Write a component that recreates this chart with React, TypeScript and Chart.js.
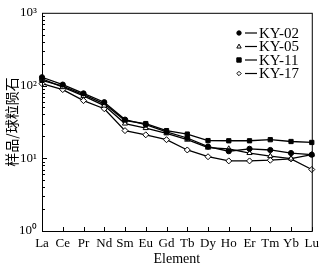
import React, { useEffect, useRef } from 'react';
import { Chart, registerables } from 'chart.js';

Chart.register(...registerables);

const elements = ['La', 'Ce', 'Pr', 'Nd', 'Sm', 'Eu', 'Gd', 'Tb', 'Dy', 'Ho', 'Er', 'Tm', 'Yb', 'Lu'];
const ky02 = [130, 103, 78, 59, 34, 29, 23, 19, 14.5, 12.5, 13.5, 13, 11.8, 11.2];
const ky05 = [124, 95, 72, 53, 30, 26, 22, 18, 14, 13.5, 11.8, 10.7, 9.9, 11.2];
const ky11 = [118, 98, 75, 56, 33, 30, 24, 21.5, 17.5, 17.4, 17.4, 18, 17, 16.5];
const ky17 = [106, 88, 62, 48, 24, 21, 18, 13, 10.5, 9.2, 9.2, 9.4, 9.8, 7];
const seriesNames = ['KY-02', 'KY-05', 'KY-11', 'KY-17'];
const yMajorTicks = [1, 10, 100, 1000];
const yMajorLabels = ['10⁰', '10¹', '10²', '10³'];
const xTitle = 'Element';
const yTitle = '样品/球粒陨石';

const SERIF = '"Liberation Serif", "Times New Roman", serif';
const styles = [
  { shape: 'circle', fill: '#000' },
  { shape: 'triangle', fill: '#fff' },
  { shape: 'rect', fill: '#000' },
  { shape: 'rectRot', fill: '#fff' },
];

function drawMarker(ctx: CanvasRenderingContext2D, shape: string, x: number, y: number, r: number, fill: string) {
  ctx.beginPath();
  if (shape === 'circle') {
    ctx.arc(x, y, r, 0, Math.PI * 2);
  } else if (shape === 'triangle') {
    ctx.moveTo(x, y - r * 1.1);
    ctx.lineTo(x + r, y + r * 0.7);
    ctx.lineTo(x - r, y + r * 0.7);
    ctx.closePath();
  } else if (shape === 'rect') {
    ctx.rect(x - r, y - r, r * 2, r * 2);
  } else {
    ctx.moveTo(x, y - r);
    ctx.lineTo(x + r, y);
    ctx.lineTo(x, y + r);
    ctx.lineTo(x - r, y);
    ctx.closePath();
  }
  ctx.fillStyle = fill;
  ctx.fill();
  ctx.lineWidth = 1;
  ctx.strokeStyle = '#000';
  ctx.stroke();
}

const framePlugin = {
  id: 'frameAndLegend',
  afterDraw(chart: any) {
    const { ctx, chartArea: a, scales } = chart;
    ctx.save();
    ctx.strokeStyle = '#000';
    ctx.lineWidth = 1;
    ctx.strokeRect(a.left + 0.5, a.top + 0.5, a.right - a.left, a.bottom - a.top);
    const line = (x1: number, y1: number, x2: number, y2: number) => {
      ctx.beginPath();
      ctx.moveTo(x1, y1);
      ctx.lineTo(x2, y2);
      ctx.stroke();
    };
    const ys = scales.y;
    for (let d = 0; d < 3; d++) {
      for (let m = 1; m <= 9; m++) {
        const v = m * Math.pow(10, d);
        const py = Math.round(ys.getPixelForValue(v)) + 0.5;
        line(a.left, py, a.left + (m === 1 ? 5 : 3), py);
      }
    }
    const xs = scales.x;
    elements.forEach((_, i) => {
      const px = Math.round(xs.getPixelForValue(i)) + 0.5;
      line(px, a.bottom, px, a.bottom - 4);
    });

    // legend
    ctx.font = '15px ' + SERIF;
    ctx.textBaseline = 'middle';
    ctx.textAlign = 'left';
    seriesNames.forEach((name, i) => {
      const cy = 33 + i * 13.5;
      drawMarker(ctx, styles[i].shape, 239, cy, 2.2, styles[i].fill);
      ctx.lineWidth = 1.2;
      line(245, cy, 257, cy);
      ctx.fillStyle = '#000';
      ctx.fillText(name, 259, cy + 1);
    });

    // axis titles
    ctx.fillStyle = '#000';
    ctx.font = '14px ' + SERIF;
    ctx.textAlign = 'center';
    ctx.textBaseline = 'middle';
    ctx.fillText(xTitle, (a.left + a.right) / 2, 259);
    ctx.save();
    ctx.translate(12, (a.top + a.bottom) / 2);
    ctx.rotate(-Math.PI / 2);
    ctx.font = '14px "Noto Sans CJK SC", ' + SERIF;
    ctx.fillText(yTitle, 0, 0);
    ctx.restore();
    ctx.restore();
  },
};

export default function App() {
  const ref = useRef<HTMLCanvasElement>(null);
  useEffect(() => {
    document.body.style.margin = '0';
    const seriesData = [ky02, ky05, ky11, ky17];
    const chart = new Chart(ref.current!, {
      type: 'line',
      data: {
        labels: elements,
        datasets: seriesData.map((d, i) => ({
          label: seriesNames[i],
          data: d,
          borderColor: '#000',
          borderWidth: 1.3,
          tension: 0,
          pointStyle: styles[i].shape as any,
          pointRadius: styles[i].shape === 'circle' ? 2.6 : 3,
          pointBackgroundColor: styles[i].fill,
          pointBorderColor: '#000',
          pointBorderWidth: 1,
        })),
      },
      options: {
        animation: false,
        responsive: false,
        devicePixelRatio: 1,
        layout: { padding: { top: 6, right: 7, left: 0, bottom: 0 } },
        plugins: { legend: { display: false }, tooltip: { enabled: false } },
        scales: {
          x: {
            type: 'category',
            offset: false,
            grid: { display: false, drawTicks: false },
            border: { display: false },
            ticks: { color: '#000', font: { family: SERIF, size: 13 }, padding: 5, maxRotation: 0, autoSkip: false },
            afterFit: (s: any) => { s.height = 36; },
          },
          y: {
            type: 'logarithmic',
            min: 1,
            max: 1000,
            grid: { display: false, drawTicks: false },
            border: { display: false },
            ticks: {
              color: '#000',
              font: { family: SERIF, size: 13 },
              padding: 5,
              callback: (v: any) => {
                const k = yMajorTicks.indexOf(Number(v));
                return k >= 0 ? yMajorLabels[k] : '';
              },
            },
            afterBuildTicks: (s: any) => { s.ticks = yMajorTicks.map((v) => ({ value: v })); },
            afterFit: (s: any) => { s.width = 42; },
          },
        },
      },
      plugins: [framePlugin],
    });
    return () => chart.destroy();
  }, []);
  return <canvas ref={ref} width={324} height={267} style={{ display: 'block', width: 324, height: 267 }} />;
}
